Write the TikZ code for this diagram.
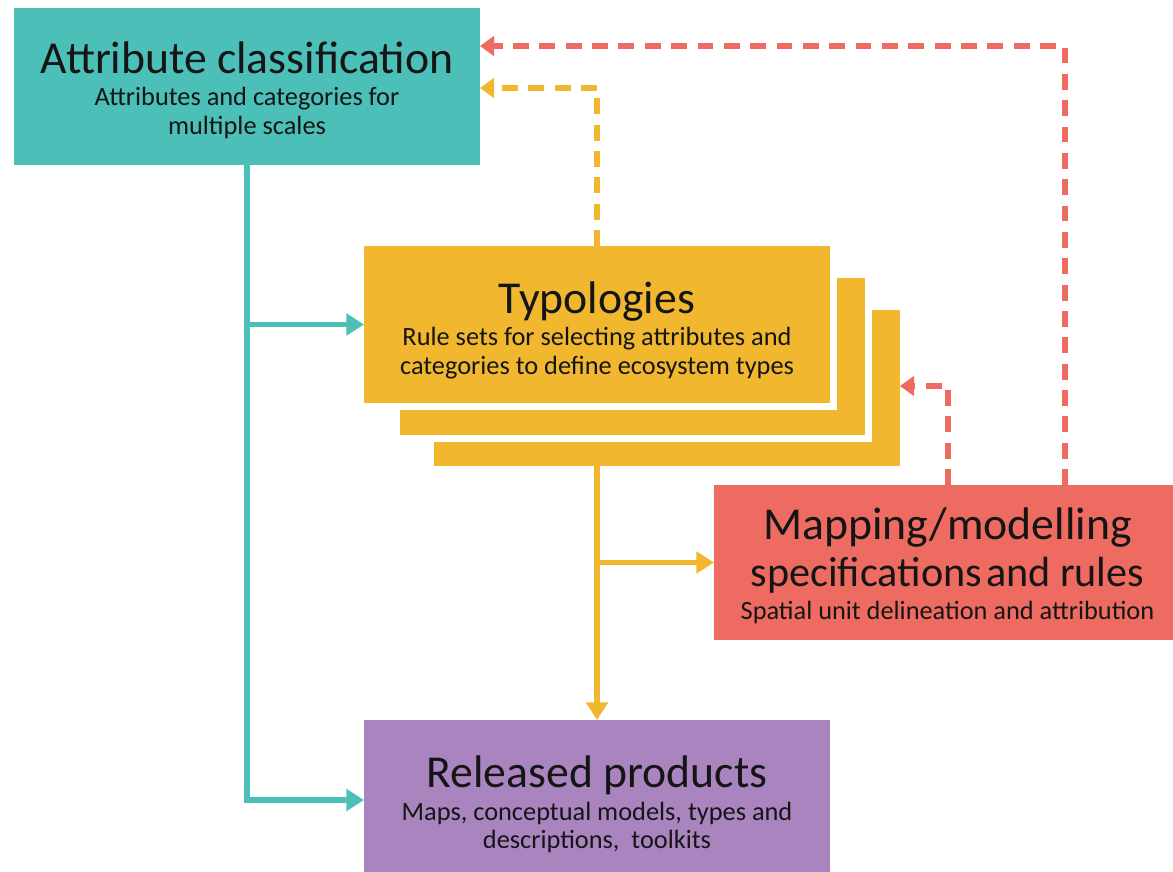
\documentclass[tikz,border=0pt]{standalone}
\usepackage{fontspec}
\setmainfont{Carlito}
\usetikzlibrary{arrows.meta,calc}
\definecolor{cteal}{HTML}{4BBFB8}
\definecolor{cyel}{HTML}{F0B72F}
\definecolor{cred}{HTML}{EE6B62}
\definecolor{cpur}{HTML}{A984BE}
\definecolor{ctext}{HTML}{151515}
\newcommand{\ttlfont}{\fontsize{26}{16.5}\selectfont}
\newcommand{\ttlsmall}{\fontsize{24}{16.5}\selectfont}
\newcommand{\subfont}{\fontsize{15}{16.5}\selectfont}
\tikzset{
  box/.style={inner sep=0pt, outer sep=0pt},
  boxtext/.style={inner sep=0pt, outer sep=0pt, align=center, text=ctext, font=\subfont},
  layer/.style={inner sep=0pt, outer sep=0pt, fill=cyel, preaction={draw=white, line width=8pt}},
  solidarrow/.style={line width=2.9pt, -{Triangle[length=10pt,width=12pt]}},
  dasharrow/.style={line width=2.9pt, dash pattern=on 9pt off 6pt, -{Triangle[length=8pt,width=11pt]}},
}
\begin{document}
\begin{tikzpicture}[x=0.02cm,y=-0.02cm]
\useasboundingbox (0,0) rectangle (1173,872);
% boxes
\node[box, fill=cteal, minimum width=9.32cm, minimum height=3.14cm] (attr) at (247,86.5) {};
\node[boxtext] (attrt) at (247,90.5)
  {{\ttlfont Attribute classification}\\[2pt]Attributes and categories for\\multiple scales};
\node[layer, minimum width=9.32cm, minimum height=3.12cm] (l3) at (667,388) {};
\node[layer, minimum width=9.30cm, minimum height=3.14cm] (l2) at (632.5,356.5) {};
\node[box, fill=cyel, minimum width=9.32cm, minimum height=3.14cm, preaction={draw=white, line width=8pt}] (typ) at (597,324.5) {};
\node[boxtext] (typt) at (597,330.5)
  {{\ttlfont Typologies}\\[2pt]Rule sets for selecting attributes and\\categories to define ecosystem types};
\node[box, fill=cred, minimum width=9.18cm, minimum height=3.10cm] (map) at (943.5,562.5) {};
\node[boxtext] (mapt) at (947.5,565.5)
  {{\ttlfont Mapping/modelling}\\[5pt]{\ttlsmall specifications\hspace{0.1em}and rules}\\[2pt]Spatial unit delineation and attribution};
\node[box, fill=cpur, minimum width=9.32cm, minimum height=3.2cm] (rel) at (597,800) {};
\node[boxtext] (relt) at (597,804.5)
  {{\ttlfont Released products}\\[2pt]Maps, conceptual models, types and\\descriptions,\ \ toolkits};
% connectors
\draw[solidarrow, cteal] (attr.south) |- (typ.west);
\draw[solidarrow, cteal] (attr.south) |- (rel.west);
\draw[dasharrow, cyel] (typ.north) |- ([yshift=-0.03cm]attr.east);
\draw[dasharrow, cred] ([xshift=2.43cm]map.north) |- ([yshift=0.81cm]attr.east);
\draw[dasharrow, cred] ([xshift=0.09cm]map.north) |- ([yshift=0.04cm]l3.east);
\draw[solidarrow, cyel] (typ.south |- l3.south) -- (rel.north);
\draw[solidarrow, cyel] (typ.south |- map.west) -- (map.west);
\end{tikzpicture}
\end{document}
